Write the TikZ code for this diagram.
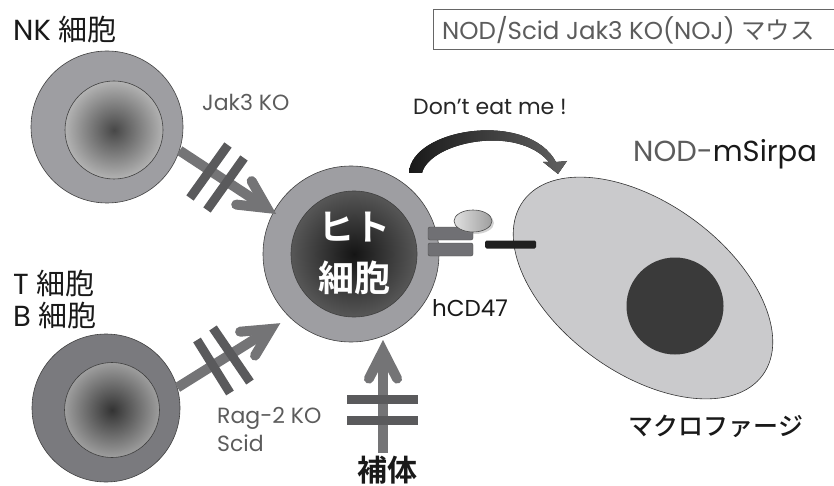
\documentclass[tikz,border=0pt]{standalone}
\usepackage{fontspec}
\setmainfont{Poppins}
\newfontfamily\cjk{Noto Sans CJK JP}
\newfontfamily\cjkmed{Noto Sans CJK JP}[UprightFont=* Medium, BoldFont=* Bold]
\usetikzlibrary{calc,shapes.geometric,shadows}

\definecolor{ringgray}{HTML}{9E9EA2}
\definecolor{ringdark}{HTML}{7A7A7E}
\definecolor{arrowgray}{HTML}{747476}
\definecolor{bargray}{HTML}{5A5A5C}
\definecolor{labelgray}{HTML}{5C5C5C}
\definecolor{macgray}{HTML}{CACACC}
\definecolor{nucdark}{HTML}{3A3A3A}
\definecolor{rcptgray}{HTML}{707074}

% chevron head of a thick arrow: tail point #1, tip #2
\newcommand\arrowchevron[2]{%
  \draw[arrowline] ($(#2)!31pt!27:(#1)$) -- (#2) -- ($(#2)!31pt!-27:(#1)$);}

\begin{document}
\begin{tikzpicture}[x=1pt,y=-1pt,
  cellring/.style={circle, draw=black!75, line width=0.6pt, inner sep=0pt},
  nucleus/.style={circle, draw=black!75, line width=0.6pt, inner sep=0pt},
  arrowline/.style={draw=arrowgray, line width=10pt, line cap=round, line join=miter},
  shaft/.style={draw=arrowgray, line width=10pt, line cap=butt, shorten >=4pt},
  barline/.style={draw=bargray, line width=9pt},
  rcpt/.style={rectangle, rounded corners=2pt, draw=black!70, fill=rcptgray,
    minimum width=45pt, minimum height=13pt, inner sep=0pt},
  biglabel/.style={font=\fontsize{29}{32}\selectfont, text=black!90, anchor=west, inner sep=0pt},
  koLabel/.style={font=\fontsize{22}{28}\selectfont, text=labelgray, anchor=west, inner sep=0pt, align=left},
  jplabel/.style={text=black!90, inner sep=0pt}]

\useasboundingbox (0,0) rectangle (834,486);

% mouse strain box
\draw[draw=black!60, line width=0.8pt] (433,9) rectangle (840,49);
\node[font=\fontsize{24.5}{27}\selectfont, text=labelgray, anchor=west, inner sep=0pt] (strain)
  at (442,30) {NOD/Scid Jak3 KO(NOJ) {\cjk マウス}};

% NK cell
\node[biglabel] (nklab) at (13,29) {NK {\cjk 細胞}};
\node[cellring, fill=ringgray, minimum size=152pt] (nk) at (107,127) {};
\node[nucleus, minimum size=98pt, inner color=black!72, outer color=black!30] (nkn) at (114,130) {};
\node[koLabel] (jak) at (202,102) {Jak3 KO};

% T / B cell
\node[biglabel] (tlab) at (13,283) {T {\cjk 細胞}};
\node[biglabel] (blab) at (13,315) {B {\cjk 細胞}};
\node[cellring, fill=ringdark, minimum size=148pt] (tb) at (106,408) {};
\node[nucleus, minimum size=95pt, inner color=black!80, outer color=black!38] (tbn) at (112,410) {};
\node[koLabel] (rag) at (217,429) {Rag-2 KO\\Scid};

% human cell
\node[cellring, fill=ringgray, minimum size=176pt] (hu) at (351,254) {};
\node[nucleus, minimum size=126pt, inner color=black!92, outer color=black!66] (hun) at (354,254) {};
\node[font=\cjkmed\bfseries\fontsize{36}{51}\selectfont, text=white, align=center, inner sep=0pt]
  (hutext) at (354,253) {ヒト\\細胞};

% macrophage
\node[ellipse, draw=black!80, line width=0.6pt, fill=macgray, minimum width=296pt,
  minimum height=170pt, rotate=-36, inner sep=0pt] (mac) at (643,288) {};
\node[circle, fill=nucdark, minimum size=97pt, inner sep=0pt] (macn) at (675,306) {};
\node[font=\fontsize{29}{34}\selectfont, anchor=west, inner sep=0pt] (sirpa)
  at (633,154) {\textcolor{labelgray}{NOD-}\textcolor{black!90}{mSirpa}};
\node[jplabel, font=\cjkmed\fontsize{25}{28}\selectfont] (maclab) at (716,426) {マクロファージ};

% hCD47 and SIRPa
\node[rcpt] (cd47a) at (450.5,233.5) {};
\node[rcpt] (cd47b) at (450.5,249.5) {};
\node[ellipse, draw=black!70, line width=0.6pt, left color=black!12, right color=black!38,
  drop shadow={shadow xshift=2pt, shadow yshift=-2pt, opacity=0.35},
  minimum width=38pt, minimum height=22pt, inner sep=0pt] (cd47c) at (473,221) {};
\node[rectangle, rounded corners=1.5pt, fill=black!88, minimum width=51pt,
  minimum height=8pt, inner sep=0pt] (sirp) at (510.5,244.5) {};
\node[font=\fontsize{23}{26}\selectfont, text=black!90, anchor=west, inner sep=0pt] (cdlab)
  at (432,308) {hCD47};

% "don't eat me" signal
\node[font=\fontsize{22}{24}\selectfont, text=black!85, anchor=west, inner sep=0pt] (eat)
  at (413,107) {Don't eat me !};
\fill[left color=black!90, right color=black!62]
  (409,173) .. controls (411,128) and (528,110) .. (556,162)
  -- (567,161) -- (558,174) -- (543,162) -- (549,162)
  .. controls (517,124) and (430,142) .. (422,173) -- cycle;

% NK cell -> human cell (blocked)
\coordinate (nkS) at (nk.-18);
\coordinate (nkE) at ($(hu.center)+(-84,-46)$);
\draw[shaft] (nkS) -- (nkE);
\arrowchevron{nkS}{nkE}
\draw[barline] (190,198) -- (228,145);
\draw[barline] (207,210) -- (244,158);

% T/B cell -> human cell (blocked)
\coordinate (tbS) at (tb.16);
\coordinate (tbE) at ($(hu.center)+(-80,75)$);
\draw[shaft] (tbS) -- (tbE);
\arrowchevron{tbS}{tbE}
\draw[barline] (197,340) -- (230,393);
\draw[barline] (213,328) -- (250,382);

% complement -> human cell (blocked)
\node[jplabel, font=\cjkmed\bfseries\fontsize{30}{34}\selectfont] (comp) at (387,470) {補体};
\coordinate (cE) at ($(hu.center)+(32,97)$);
\coordinate (cS) at (cE |- 0,453);
\draw[shaft] (cS) -- (cE);
\arrowchevron{cS}{cE}
\draw[barline] (347,399) -- (418,399);
\draw[barline] (347,420) -- (418,420);

\end{tikzpicture}
\end{document}
